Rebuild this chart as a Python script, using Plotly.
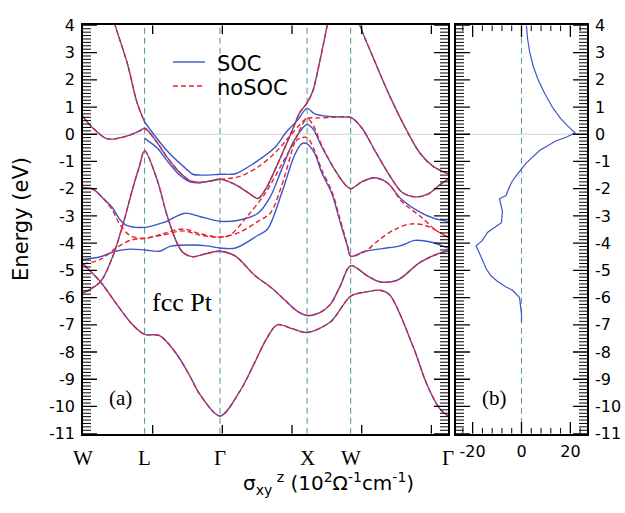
import plotly.graph_objects as go

# ---------------- data ----------------
SYM_K = [0.0, 0.707, 1.573, 2.573, 3.073, 4.191]
SYM_LABELS = ["W", "L", "Γ", "X", "W", "Γ"]
Y_TICKS = [4, 3, 2, 1, 0, -1, -2, -3, -4, -5, -6, -7, -8, -9, -10, -11]
X2_TICKS = [-20, 0, 20]

# bands identical (within resolution) with and without SOC
SH_A_K = [0.00, 0.20, 0.39, 0.57, 0.707, 0.88, 1.08, 1.23, 1.34, 1.573, 1.80, 1.97, 2.11, 2.23, 2.41, 2.573, 2.84, 3.073, 3.24, 3.41, 3.52, 3.79, 3.95, 4.10, 4.191]
SH_A_E = [-4.77, -5.42, -6.26, -7.00, -7.35, -7.40, -8.10, -8.90, -9.55, -10.35, -9.45, -8.40, -7.50, -7.00, -7.15, -7.28, -6.90, -5.95, -5.80, -5.73, -5.90, -7.80, -9.20, -10.10, -10.35]

SH_B_K = [0.00, 0.20, 0.34, 0.46, 0.57, 0.65, 0.707, 0.85, 0.96, 1.08, 1.15, 1.26, 1.42, 1.573, 1.75, 1.97, 2.17, 2.32, 2.46, 2.573, 2.72, 2.84, 2.95, 3.073, 3.26, 3.41, 3.61, 3.87, 4.13, 4.191]
SH_B_E = [-5.83, -5.42, -4.50, -3.30, -2.00, -1.15, -0.60, -1.66, -2.93, -4.00, -4.35, -4.50, -4.38, -4.30, -4.48, -5.18, -5.66, -6.10, -6.50, -6.66, -6.55, -6.25, -5.60, -4.83, -5.19, -5.42, -5.36, -4.71, -4.33, -4.30]

SH_C_K = [0.00, 0.11, 0.28, 0.51, 0.65, 0.707, 0.85, 0.96, 1.11, 1.23, 1.34, 1.46, 1.573, 1.75, 1.92, 2.01, 2.10, 2.22, 2.33, 2.41, 2.49, 2.573, 2.64, 2.70, 2.76, 2.81, 2.85]
SH_C_E = [0.65, 0.24, -0.17, -0.06, 0.12, 0.22, -0.30, -0.82, -1.40, -1.71, -1.77, -1.72, -1.65, -1.85, -2.20, -2.36, -2.00, -1.20, -0.40, 0.20, 0.80, 1.15, 1.60, 2.40, 3.30, 4.10, 4.70]

SH_D_K = [3.15, 3.18, 3.33, 3.52, 3.72, 3.87, 4.02, 4.191]
SH_D_E = [4.40, 4.00, 2.83, 1.42, 0.12, -0.70, -1.18, -1.45]

SH_E_K = [0.34, 0.37, 0.51, 0.62, 0.707]
SH_E_E = [4.40, 4.00, 2.59, 1.17, 0.45]

# SOC-only bands
SOC_1_K = [0.00, 0.11, 0.23, 0.34, 0.42, 0.51, 0.707, 0.92, 1.17, 1.34, 1.573, 1.80, 2.01, 2.15, 2.28, 2.43, 2.573, 2.64, 2.74, 2.89, 3.01, 3.073, 3.20, 3.35, 3.50, 3.66, 3.89, 4.04, 4.191]
SOC_1_E = [-1.95, -2.00, -2.35, -2.71, -3.12, -3.36, -3.42, -3.25, -2.90, -3.02, -3.20, -3.15, -2.90, -2.30, -1.30, -0.20, 0.36, 0.20, -0.45, -1.30, -1.85, -2.00, -1.75, -1.60, -1.80, -2.40, -2.90, -3.10, -3.20]

SOC_2_K = [0.00, 0.20, 0.37, 0.54, 0.707, 0.88, 1.00, 1.26, 1.42, 1.573, 1.75, 2.01, 2.12, 2.28, 2.43, 2.51, 2.573, 2.66, 2.74, 2.86, 2.95, 3.04, 3.073, 3.24, 3.44, 3.64, 3.81, 3.98, 4.191]
SOC_2_E = [-4.60, -4.50, -4.30, -4.22, -4.25, -4.30, -4.12, -4.07, -4.10, -4.18, -4.18, -3.71, -3.48, -2.18, -0.76, -0.35, -0.35, -0.70, -1.40, -2.20, -3.20, -4.15, -4.48, -4.30, -4.20, -4.10, -3.90, -3.95, -4.18]

SOC_3_K = [0.707, 0.96, 1.19, 1.26, 1.40, 1.573, 1.75, 1.97, 2.20, 2.34, 2.46, 2.573, 2.66, 2.84, 3.00, 3.073, 3.20, 3.35, 3.50, 3.66, 3.81, 3.96, 4.10, 4.191]
SOC_3_E = [0.45, -0.59, -1.29, -1.47, -1.50, -1.47, -1.45, -1.05, -0.50, 0.10, 0.50, 0.95, 0.75, 0.65, 0.63, 0.62, 0.24, -0.59, -1.41, -2.12, -2.30, -2.20, -1.85, -1.65]

SOC_4_K = [0.707, 0.85, 0.96, 1.11, 1.23, 1.34, 1.573]
SOC_4_E = [-0.15, -0.50, -0.95, -1.50, -1.75, -1.78, -1.66]

# noSOC-only bands
NS_1_K = [0.00, 0.11, 0.23, 0.34, 0.42, 0.54, 0.707, 0.92, 1.15, 1.34, 1.573, 1.69, 1.89, 2.09, 2.28, 2.43, 2.49, 2.573, 2.66, 2.74, 2.86, 2.95, 3.04, 3.073, 3.24, 3.41, 3.58, 3.75, 3.93, 4.191]
NS_1_E = [-1.97, -2.02, -2.35, -2.80, -3.30, -3.72, -3.83, -3.65, -3.48, -3.65, -3.78, -3.70, -3.00, -2.18, -1.12, -0.30, -0.15, -0.12, -0.60, -1.30, -2.12, -3.10, -4.12, -4.48, -4.30, -3.85, -3.50, -3.30, -3.35, -3.78]

NS_2_K = [0.00, 0.20, 0.37, 0.54, 0.707, 0.92, 1.15, 1.34, 1.573, 1.80, 2.01, 2.15, 2.28, 2.43, 2.51, 2.573, 2.70, 2.86, 3.073, 3.20, 3.35, 3.50, 3.66, 3.81, 3.96, 4.10, 4.191]
NS_2_E = [-4.77, -4.60, -4.20, -3.90, -3.82, -3.70, -3.55, -3.70, -3.78, -3.60, -3.20, -2.90, -1.90, -0.30, 0.30, 0.58, 0.60, 0.62, 0.62, 0.24, -0.59, -1.41, -2.12, -2.30, -2.20, -1.85, -1.65]

NS_3_K = [1.573, 1.80, 2.01, 2.20, 2.38, 2.49, 2.573, 2.64, 2.74, 2.89, 3.01, 3.073, 3.20, 3.35, 3.50, 3.66, 3.89, 4.04, 4.191]
NS_3_E = [-1.66, -1.55, -1.20, -0.70, -0.05, 0.35, 0.58, 0.35, -0.40, -1.30, -1.85, -2.00, -1.75, -1.60, -1.80, -2.47, -3.06, -3.50, -3.78]

# anomalous Hall conductivity sigma_xy^z (10^2 Ohm^-1 cm^-1) vs energy
AHC_E = [4.0, 3.5, 3.0, 2.5, 2.0, 1.5, 1.0, 0.6, 0.3, 0.05, -0.1, -0.25, -0.6, -1.06, -1.5, -1.77, -2.12, -2.25, -2.37, -2.6, -2.83, -3.25, -3.45, -3.6, -3.9, -4.1, -4.35, -4.7, -4.95, -5.2, -5.4, -5.6, -5.73, -6.0, -6.3, -6.6, -6.9]
AHC_S = [2.0, 2.5, 3.4, 4.8, 6.8, 9.5, 12.6, 15.8, 19.0, 21.9, 18.5, 14.0, 7.4, 1.9, -2.0, -4.1, -5.8, -6.3, -9.0, -8.5, -7.8, -8.2, -11.5, -13.8, -16.0, -18.6, -17.3, -15.5, -14.4, -12.5, -9.9, -6.5, -3.7, -0.8, -0.3, 0.0, 0.0]

# ---------------- styling ----------------
BLUE = "#3d55c8"
RED = "#e8202a"
SYMLINE = "#5f9e92"
W, H = 625, 513
L0, L1, R0, R1 = 83, 448, 456, 587
TOP, BOT = 17, 441
SANS = "DejaVu Sans"
SERIF = "Liberation Serif"
YR = [-11, 4]
XR = [0, SYM_K[-1]]
X2R = [-26.8, 26.8]

fig = go.Figure()

shared = [(SH_A_K, SH_A_E), (SH_B_K, SH_B_E), (SH_C_K, SH_C_E), (SH_D_K, SH_D_E), (SH_E_K, SH_E_E)]
soc_only = [(SOC_1_K, SOC_1_E), (SOC_2_K, SOC_2_E), (SOC_3_K, SOC_3_E), (SOC_4_K, SOC_4_E)]
ns_only = [(NS_1_K, NS_1_E), (NS_2_K, NS_2_E), (NS_3_K, NS_3_E)]

for k, e in shared + soc_only:
    fig.add_trace(go.Scatter(x=k, y=e, mode="lines", showlegend=False, hoverinfo="skip",
                             line=dict(color=BLUE, width=1.4, shape="spline", smoothing=0.9)))
for k, e in shared + ns_only:
    fig.add_trace(go.Scatter(x=k, y=e, mode="lines", showlegend=False, hoverinfo="skip",
                             line=dict(color=RED, width=1.4, dash="5px,3px", shape="spline", smoothing=0.9)))

fig.add_trace(go.Scatter(x=AHC_S, y=AHC_E, mode="lines", xaxis="x2", yaxis="y2", showlegend=False,
                         hoverinfo="skip", line=dict(color=BLUE, width=1.2)))

tickfont = dict(family=SANS, size=16, color="black")


def frame_axis(**kw):
    base = dict(showgrid=False, zeroline=False, showline=True, linecolor="black", linewidth=1.5,
                mirror=True, ticks="", tickfont=tickfont, fixedrange=True)
    base.update(kw)
    return base


fig.update_layout(
    width=W, height=H, margin=dict(l=0, r=0, t=0, b=0),
    paper_bgcolor="white", plot_bgcolor="white",
    xaxis=frame_axis(domain=[L0 / W, L1 / W], range=XR, showticklabels=False, anchor="y"),
    yaxis=frame_axis(domain=[1 - BOT / H, 1 - TOP / H], range=YR, tickmode="array", tickvals=Y_TICKS,
                     ticktext=[str(v) for v in Y_TICKS], ticklabelstandoff=3, anchor="x"),
    xaxis2=frame_axis(domain=[R0 / W, R1 / W], range=X2R, tickmode="array", tickvals=X2_TICKS,
                      ticktext=[str(v) for v in X2_TICKS], ticklabelstandoff=2, anchor="y2"),
    yaxis2=frame_axis(domain=[1 - BOT / H, 1 - TOP / H], range=YR, tickmode="array", tickvals=Y_TICKS,
                      ticktext=[str(v) for v in Y_TICKS], side="right", ticklabelstandoff=3, anchor="x2"),
)

# ---- inside tick marks (drawn as shapes, lengths given in pixels) ----
kpp = (XR[1] - XR[0]) / (L1 - L0)          # k units per pixel (left panel)
spp = (X2R[1] - X2R[0]) / (R1 - R0)        # sigma units per pixel (right panel)
epp = (YR[1] - YR[0]) / (BOT - TOP)        # eV per pixel

minor_y = [YR[0] + 0.125 * i for i in range(121) if (0.125 * i) % 1 != 0]
x_major = [0.8 * i for i in range(1, 6)]
x2_minor = [v for v in range(-24, 25, 4) if v not in X2_TICKS]


def hticks(vals, x0, x1):
    return "".join(f"M{x0},{v}L{x1},{v}" for v in vals)


def vticks(vals, y0, y1):
    return "".join(f"M{v},{y0}L{v},{y1}" for v in vals)


tick_line = dict(color="black", width=1.3)
minor_line = dict(color="black", width=1.0)
shapes = []
# left panel y ticks (both sides)
shapes.append(dict(type="path", xref="x", yref="y", line=tick_line,
                   path=hticks(Y_TICKS, XR[0], XR[0] + 14 * kpp) + hticks(Y_TICKS, XR[1] - 14 * kpp, XR[1])))
shapes.append(dict(type="path", xref="x", yref="y", line=minor_line,
                   path=hticks(minor_y, XR[0], XR[0] + 8 * kpp) + hticks(minor_y, XR[1] - 8 * kpp, XR[1])))
# left panel x ticks (bottom and top)
shapes.append(dict(type="path", xref="x", yref="y", line=tick_line,
                   path=vticks(x_major, YR[0], YR[0] + 9 * epp) + vticks(x_major, YR[1] - 9 * epp, YR[1])))
# right panel y ticks (both sides)
shapes.append(dict(type="path", xref="x2", yref="y2", line=tick_line,
                   path=hticks(Y_TICKS, X2R[0], X2R[0] + 14 * spp) + hticks(Y_TICKS, X2R[1] - 14 * spp, X2R[1])))
shapes.append(dict(type="path", xref="x2", yref="y2", line=minor_line,
                   path=hticks(minor_y, X2R[0], X2R[0] + 8 * spp) + hticks(minor_y, X2R[1] - 8 * spp, X2R[1])))
# right panel x ticks (bottom and top)
shapes.append(dict(type="path", xref="x2", yref="y2", line=tick_line,
                   path=vticks(X2_TICKS, YR[0], YR[0] + 12 * epp) + vticks(X2_TICKS, YR[1] - 12 * epp, YR[1])))
shapes.append(dict(type="path", xref="x2", yref="y2", line=minor_line,
                   path=vticks(x2_minor, YR[0], YR[0] + 6 * epp) + vticks(x2_minor, YR[1] - 6 * epp, YR[1])))

# Fermi level
shapes.append(dict(type="line", xref="x", yref="y", x0=XR[0], x1=XR[1], y0=0, y1=0,
                   line=dict(color="#d2d2d2", width=1.2), layer="below"))
shapes.append(dict(type="line", xref="x2", yref="y2", x0=X2R[0], x1=X2R[1], y0=0, y1=0,
                   line=dict(color="#d2d2d2", width=1.2), layer="below"))
# high-symmetry vertical lines
for kv in SYM_K[1:-1]:
    shapes.append(dict(type="line", xref="x", yref="y", x0=kv, x1=kv, y0=YR[0], y1=YR[1],
                       line=dict(color=SYMLINE, width=1.1, dash="6px,4px"), layer="below"))
shapes.append(dict(type="line", xref="x2", yref="y2", x0=0, x1=0, y0=YR[0], y1=YR[1],
                   line=dict(color=SYMLINE, width=1.1, dash="6px,4px"), layer="below"))
# legend samples
shapes.append(dict(type="line", xref="paper", yref="paper", x0=173 / W, x1=205 / W,
                   y0=1 - 55 / H, y1=1 - 55 / H, line=dict(color=BLUE, width=1.4)))
shapes.append(dict(type="line", xref="paper", yref="paper", x0=173 / W, x1=205 / W,
                   y0=1 - 80 / H, y1=1 - 80 / H, line=dict(color=RED, width=1.4, dash="5px,3px")))
fig.update_layout(shapes=shapes)

ann = []
for kv, lab in zip(SYM_K, SYM_LABELS):
    ann.append(dict(x=kv, y=1 - 466 / H, xref="x", yref="paper", text=lab, showarrow=False,
                    font=dict(family=SERIF, size=21, color="black"), xanchor="center", yanchor="middle"))
ann.append(dict(x=215 / W, y=1 - 57 / H, xref="paper", yref="paper", text="SOC", showarrow=False,
                font=dict(family=SANS, size=21, color="black"), xanchor="left", yanchor="middle"))
ann.append(dict(x=215 / W, y=1 - 82 / H, xref="paper", yref="paper", text="noSOC", showarrow=False,
                font=dict(family=SANS, size=21, color="black"), xanchor="left", yanchor="middle"))
ann.append(dict(x=182 / W, y=1 - 305 / H, xref="paper", yref="paper", text="fcc Pt", showarrow=False,
                font=dict(family=SERIF, size=26, color="black"), xanchor="center", yanchor="middle"))
ann.append(dict(x=120 / W, y=1 - 404 / H, xref="paper", yref="paper", text="(a)", showarrow=False,
                font=dict(family=SERIF, size=21, color="black"), xanchor="center", yanchor="middle"))
ann.append(dict(x=494 / W, y=1 - 404 / H, xref="paper", yref="paper", text="(b)", showarrow=False,
                font=dict(family=SERIF, size=21, color="black"), xanchor="center", yanchor="middle"))
ann.append(dict(x=21 / W, y=1 - 218 / H, xref="paper", yref="paper", text="Energy (eV)", showarrow=False,
                textangle=-90, font=dict(family=SANS, size=21, color="black"),
                xanchor="center", yanchor="middle"))
ann.append(dict(x=328 / W, y=1 - 493 / H, xref="paper", yref="paper",
                text="σ<sub>xy</sub><sup> z</sup> (10<sup>2</sup>Ω<sup>-1</sup>cm<sup>-1</sup>)",
                showarrow=False, font=dict(family=SANS, size=20, color="black"),
                xanchor="center", yanchor="middle"))
fig.update_layout(annotations=ann)

fig.write_html("out.html")
